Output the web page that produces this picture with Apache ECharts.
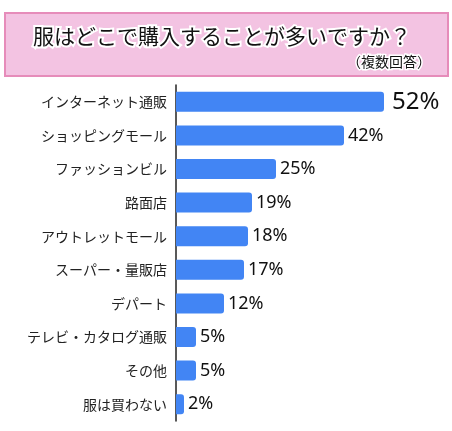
<!DOCTYPE html>
<html><head><meta charset="utf-8">
<script src="https://cdn.jsdelivr.net/npm/echarts@6/dist/echarts.min.js"></script>
<style>html,body{margin:0;padding:0;background:#fff}#c{width:452px;height:431px}</style>
</head><body><div id="c"></div>
<script>
const categories = ['インターネット通販','ショッピングモール','ファッションビル','路面店','アウトレットモール','スーパー・量販店','デパート','テレビ・カタログ通販','その他','服は買わない'];
const values = [52,42,25,19,18,17,12,5,5,2];
const titleText = '服はどこで購入することが多いですか？';
const subtitleText = '（複数回答）';

const chart = echarts.init(document.getElementById('c'));
const fontCJK = '"Noto Sans CJK JP","Noto Sans",sans-serif';
chart.setOption({
  animation:false,
  graphic:[
    {type:'rect',shape:{x:5,y:13,width:443,height:63},style:{fill:'#f3c3e2',stroke:'#e68cba',lineWidth:2}},
    {type:'text',x:222,y:36,style:{text:titleText,fontSize:21,fontFamily:fontCJK,fill:'#111',stroke:'#fff',lineWidth:4,align:'center',verticalAlign:'middle'}},
    {type:'text',x:431,y:62,style:{text:subtitleText,fontSize:14,fontFamily:fontCJK,fill:'#111',stroke:'#fff',lineWidth:3,align:'right',verticalAlign:'middle'}}
  ],
  grid:{left:176,top:85,width:240,height:336},
  xAxis:{type:'value',min:0,max:60,show:false},
  yAxis:{type:'category',inverse:true,data:categories,
    axisLine:{show:true,lineStyle:{color:'#222',width:1.5}},
    axisTick:{show:false},
    axisLabel:{margin:9,fontSize:14,color:'#222',fontFamily:fontCJK}},
  series:[{type:'bar',data:values.map((v,i)=>({value:v,label:i===0?{fontSize:24,distance:8}:{}})),
    barWidth:20,
    itemStyle:{color:'#4285f4',borderRadius:[0,3,3,0]},
    label:{show:true,position:'right',distance:4,formatter:'{c}%',fontSize:18,color:'#111',fontFamily:'"Noto Sans",sans-serif'}}]
});
</script></body></html>
